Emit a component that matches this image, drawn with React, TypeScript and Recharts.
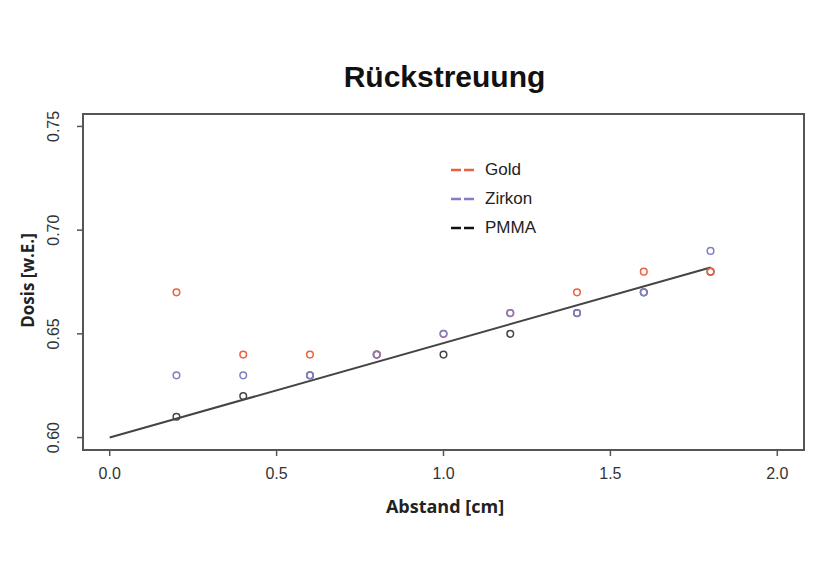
import { ScatterChart, Scatter, XAxis, YAxis, ReferenceArea } from 'recharts'

// Abstand [cm]
const abstand = [0.2, 0.4, 0.6, 0.8, 1.0, 1.2, 1.4, 1.6, 1.8]
// Dosis [w.E.]
const gold = [0.67, 0.64, 0.64, 0.64, 0.65, 0.66, 0.67, 0.68, 0.68]
const zirkon = [0.63, 0.63, 0.63, 0.64, 0.65, 0.66, 0.66, 0.67, 0.69]
const pmma = [0.61, 0.62, 0.63, 0.64, 0.64, 0.65, 0.66, 0.67, 0.68]
// fitted line for PMMA
const fitX = [0.0, 1.8]
const fitY = [0.6, 0.682]

const xTicks = [0, 0.5, 1, 1.5, 2]
const yTicks = [0.6, 0.65, 0.7, 0.75]

const COLORS = { gold: '#e8623f', zirkon: '#7f7fc4', pmma: '#454545' }

const toPoints = (xs: number[], ys: number[]) => xs.map((x, i) => ({ x, y: ys[i] }))

const ring = (color: string) => (props: any) => (
  <circle cx={props.cx} cy={props.cy} r={3.3} fill="none" stroke={color} strokeWidth={1.5} />
)

const legendItems = [
  { name: 'Gold', color: COLORS.gold },
  { name: 'Zirkon', color: COLORS.zirkon },
  { name: 'PMMA', color: '#111' }
]

const LegendBox = () => (
  <div
    style={{
      position: 'absolute', left: 450, top: 155,
      fontFamily: 'Liberation Sans, Arial, sans-serif', fontSize: 17, color: '#222'
    }}
  >
    {legendItems.map(it => (
      <div key={it.name} style={{ display: 'flex', alignItems: 'center', height: 29 }}>
        <svg width={26} height={10} style={{ marginRight: 9 }}>
          <line x1={1} y1={5} x2={25} y2={5} stroke={it.color} strokeWidth={2.5} strokeDasharray="10 3" />
        </svg>
        {it.name}
      </div>
    ))}
  </div>
)

const YTick = (props: any) => {
  const { y, payload } = props
  return (
    <text
      x={59}
      y={y}
      transform={`rotate(-90 59 ${y})`}
      textAnchor="middle"
      fontSize={16}
      fill="#333"
      fontFamily="Liberation Sans, Arial, sans-serif"
    >
      {payload.value.toFixed(2)}
    </text>
  )
}

const XTick = (props: any) => {
  const { x, payload } = props
  return (
    <text x={x} y={479} textAnchor="middle" fontSize={16} fill="#333" fontFamily="Liberation Sans, Arial, sans-serif">
      {payload.value.toFixed(1)}
    </text>
  )
}

export default function App() {
  return (
    <div style={{ position: 'absolute', left: 0, top: 0, width: 832, height: 578, background: '#fff' }}>
      <div
        style={{
          position: 'absolute', left: 0, width: 889, top: 60, textAlign: 'center',
          fontFamily: 'Liberation Sans, Arial, sans-serif', fontWeight: 'bold', fontSize: 30, color: '#111'
        }}
      >
        Rückstreuung
      </div>
      <div
        style={{
          position: 'absolute', left: 445 - 100, width: 200, top: 494, textAlign: 'center',
          fontFamily: 'Open Sans, sans-serif', fontWeight: 700, fontSize: 18, color: '#222'
        }}
      >
        Abstand [cm]
      </div>
      <div
        style={{
          position: 'absolute', left: 27 - 100, width: 200, top: 269, textAlign: 'center',
          transform: 'rotate(-90deg)', fontFamily: 'Open Sans, sans-serif', fontWeight: 700, fontSize: 17, color: '#222'
        }}
      >
        Dosis [w.E.]
      </div>
      <LegendBox />
      <ScatterChart width={832} height={578} margin={{ top: 114, right: 28, bottom: 98, left: 0 }}>
        <XAxis
          type="number"
          dataKey="x"
          domain={[-0.08, 2.08]}
          ticks={xTicks}
          axisLine={false}
          tickLine={{ stroke: '#555', strokeWidth: 1.5 }}
          tickSize={6}
          tick={<XTick />}
          height={30}
        />
        <YAxis
          type="number"
          dataKey="y"
          domain={[0.594, 0.756]}
          ticks={yTicks}
          axisLine={false}
          tickLine={{ stroke: '#555', strokeWidth: 1.5 }}
          tickSize={6}
          tick={<YTick />}
          width={83}
        />
        <ReferenceArea x1={-0.08} x2={2.08} y1={0.594} y2={0.756} fill="none" stroke="#555" strokeWidth={2} ifOverflow="visible" />
        <Scatter
          name="fit"
          data={toPoints(fitX, fitY)}
          line={{ stroke: '#444', strokeWidth: 2 }}
          shape={() => <g />}
          isAnimationActive={false}
        />
        <Scatter name="PMMA" data={toPoints(abstand, pmma)} shape={ring(COLORS.pmma)} isAnimationActive={false} />
        <Scatter name="Gold" data={toPoints(abstand, gold)} shape={ring(COLORS.gold)} isAnimationActive={false} />
        <Scatter name="Zirkon" data={toPoints(abstand, zirkon)} shape={ring(COLORS.zirkon)} isAnimationActive={false} />
      </ScatterChart>
    </div>
  )
}
